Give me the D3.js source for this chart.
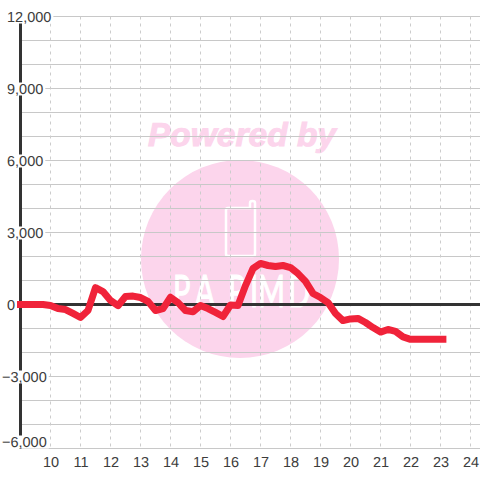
<!DOCTYPE html>
<html>
<head>
<meta charset="utf-8">
<script src="https://d3js.org/d3.v7.min.js"></script>
<style>
  html, body { margin: 0; padding: 0; background: #fff; }
  svg { display: block; }
  text { font-family: "Liberation Sans", Arial, sans-serif; text-rendering: geometricPrecision; }
</style>
</head>
<body>
<div class="chart"></div>
<script>
var hours = [9, 9.25, 9.5, 9.75, 10, 10.25, 10.5, 10.75, 11, 11.25, 11.5, 11.75,
  12, 12.25, 12.5, 12.75, 13, 13.25, 13.5, 13.75, 14, 14.25, 14.5, 14.75,
  15, 15.25, 15.5, 15.75, 16, 16.25, 16.5, 16.75, 17, 17.25, 17.5, 17.75,
  18, 18.25, 18.5, 18.75, 19, 19.25, 19.5, 19.75, 20, 20.25, 20.5, 20.75,
  21, 21.25, 21.5, 21.75, 22, 22.25, 22.5, 22.75, 23, 23.08];
var values = [0, 0, 0, 0, -40, -170, -210, -370, -540, -250, 700, 540,
  170, -50, 330, 350, 290, 130, -250, -170, 300, 80, -250, -300,
  -40, -170, -330, -500, -20, -40, 790, 1500, 1710, 1625, 1580, 1625,
  1540, 1290, 960, 460, 290, 80, -375, -670, -600, -580, -750, -960,
  -1150, -1040, -1120, -1350, -1450, -1450, -1450, -1450, -1450, -1450];

var xTicks = [10, 11, 12, 13, 14, 15, 16, 17, 18, 19, 20, 21, 22, 23, 24];
var yGrid = [-6000, -5000, -4000, -3000, -2000, -1000, 0, 1000, 2000, 3000, 4000, 5000, 6000, 7000, 8000, 9000, 10000, 11000, 12000];
var yLabels = [-6000, -3000, 0, 3000, 6000, 9000, 12000];

var svgWidth = 480;
var svgHeight = 480;

var svg = d3.select(".chart")
  .append("svg")
  .attr("width", svgWidth)
  .attr("height", svgHeight);

var x = d3.scaleLinear().domain([9, 24.3333]).range([20.5, 480.5]);
var y = d3.scaleLinear().domain([-6000, 12000]).range([448.5, 16.5]);

// watermark sits under the grid
var pink = "#fcd5ec";
var mark = svg.append("g");
mark.append("circle")
  .attr("cx", 240)
  .attr("cy", 259)
  .attr("r", 99)
  .attr("fill", pink);
mark.append("text")
  .attr("x", 148)
  .attr("y", 146)
  .attr("textLength", 188)
  .attr("lengthAdjust", "spacingAndGlyphs")
  .attr("font-size", 33)
  .attr("font-weight", "bold")
  .attr("font-style", "italic")
  .attr("fill", pink)
  .attr("stroke", pink)
  .attr("stroke-width", 1)
  .text("Powered by");
// phone icon
mark.append("path")
  .attr("d", "M228 208H250V203Q250 201 252.500 201Q255 201 255 203V254Q255 256 253 256H228Q226 256 226 254V210Q226 208 228 208Z")
  .attr("fill", "none")
  .attr("stroke", "#fff")
  .attr("stroke-width", 2.5);
mark.append("text")
  .attr("transform", "translate(0, 307) scale(1, 1.53)")
  .attr("x", "173 195 228 250 258 288")
  .attr("y", 0)
  .attr("font-size", 29)
  .attr("fill", "#fff")
  .attr("stroke", "#fff")
  .attr("stroke-width", 0.8)
  .style("font-family", "Lato")
  .text("PAPIMD");

// grid lines
svg.append("g")
  .selectAll("line")
  .data(yGrid.filter(d => d != 0))
  .enter()
  .append("line")
  .attr("x1", 20)
  .attr("x2", svgWidth)
  .attr("y1", d => y(d))
  .attr("y2", d => y(d))
  .attr("stroke", "#c8c8c8");

svg.append("g")
  .selectAll("line")
  .data(xTicks)
  .enter()
  .append("line")
  .attr("x1", d => x(d))
  .attr("x2", d => x(d))
  .attr("y1", y(12000))
  .attr("y2", y(-6000))
  .attr("stroke", "#ccc")
  .attr("stroke-dasharray", "3,4");

// zero line and y axis
svg.append("line")
  .attr("x1", 20)
  .attr("x2", svgWidth)
  .attr("y1", y(0))
  .attr("y2", y(0))
  .attr("stroke", "#333")
  .attr("stroke-width", 3);

svg.append("line")
  .attr("x1", x(9))
  .attr("x2", x(9))
  .attr("y1", y(12000))
  .attr("y2", y(-6000))
  .attr("stroke", "#333")
  .attr("stroke-width", 3);

// y labels, each with a white patch that cuts the axis and grid behind it
var yAxis = svg.append("g")
  .call(d3.axisLeft(y).tickValues(yLabels).tickSize(0).tickFormat(d3.format(",")));
yAxis.select(".domain").remove();
yAxis.selectAll("text")
  .attr("text-anchor", "start")
  .attr("x", d => d < 0 ? 2 : 7)
  .attr("dy", 0)
  .attr("y", d => d == -6000 ? -2.500 : 4.500)
  .attr("font-size", 14.500)
  .attr("fill", "#3c3c3c");
yAxis.selectAll(".tick").each(function(d) {
  var label = d3.select(this).select("text");
  var box = label.node().getBBox();
  var base = +label.attr("y");
  d3.select(this).insert("rect", "text")
    .attr("x", box.x - 1)
    .attr("y", base - 11)
    .attr("width", box.width + 3)
    .attr("height", 13)
    .attr("fill", "#fff");
});

var xAxis = svg.append("g")
  .attr("transform", `translate(0, 451)`)
  .call(d3.axisBottom(x).tickValues(xTicks).tickSize(0).tickPadding(0).tickFormat(d3.format("d")));
xAxis.select(".domain").remove();
xAxis.selectAll("text")
  .attr("y", 15.500)
  .attr("dy", 0)
  .attr("font-size", 14.500)
  .attr("fill", "#3c3c3c");

// data line
var line = d3.line()
  .x(d => x(d[0]))
  .y(d => y(d[1]));

svg.append("path")
  .datum(d3.zip(hours, values))
  .attr("d", line)
  .attr("fill", "none")
  .attr("stroke", "#f0233a")
  .attr("stroke-width", 7)
  .attr("stroke-linecap", "square")
  .attr("stroke-linejoin", "round");
</script>
</body>
</html>
